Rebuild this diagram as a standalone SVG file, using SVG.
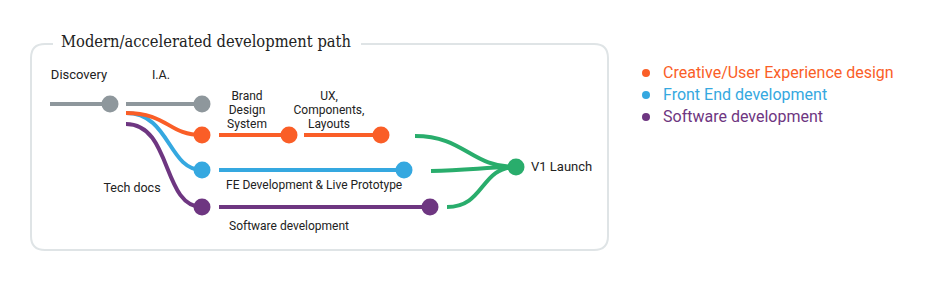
<svg xmlns="http://www.w3.org/2000/svg" width="942" height="287" viewBox="0 0 942 287">
<style>
.lbl{font-family:Roboto,"Liberation Sans",sans-serif;font-size:12.5px;fill:#222}
.sm{font-size:12px}
.lg{font-size:13px}
.leg{font-family:Roboto,"Liberation Sans",sans-serif;font-size:16px}
.ln{fill:none;stroke-width:4;stroke-linecap:butt}
.gray{stroke:#8e979c}.org{stroke:#fa5e27}.blu{stroke:#35a8e0}.pur{stroke:#6e3681}.grn{stroke:#29ad6c}
</style>
<rect width="942" height="287" fill="#fff"/>
<g id="frame">
<path d="M53 44 H45 Q31 44 31 58 V236 Q31 250 45 250 H594 Q608 250 608 236 V58 Q608 44 594 44 H361" fill="none" stroke="#dfe4e6" stroke-width="2"/>
<text x="61" y="47" font-family="'DejaVu Serif','Liberation Serif',serif" font-size="17" fill="#222" textLength="290" lengthAdjust="spacingAndGlyphs">Modern/accelerated development path</text>
</g>
<g id="connectors">
<path class="ln gray" d="M50 104 H110"/>
<path class="ln gray" d="M126 104 H202"/>
<path class="ln blu" d="M126 113 C170 113 168 170 202 170"/>
<path class="ln org" d="M126 113 C168 113 168 135 202 135"/>
<path class="ln pur" d="M126 124 C172 124 162 207 202 207"/>
<path class="ln org" d="M219 135 H289"/>
<path class="ln org" d="M304 135 H381"/>
<path class="ln blu" d="M219 170 H404"/>
<path class="ln pur" d="M219 207 H430"/>
<path class="ln grn" d="M415 136 C465 136 470 167 516 167"/>
<path class="ln grn" d="M431 171 C470 170 490 167 516 167"/>
<path class="ln grn" d="M447 207 C485 207 480 167 516 167"/>
</g>
<g id="discovery"><circle cx="110" cy="104" r="8.5" fill="#8e979c"/><text class="lbl lg" x="79" y="79" text-anchor="middle">Discovery</text></g>
<g id="ia"><circle cx="202" cy="104" r="8.5" fill="#8e979c"/><text class="lbl" x="161" y="79" text-anchor="middle">I.A.</text></g>
<g id="creative-start"><circle cx="202" cy="135" r="8.5" fill="#fa5e27"/></g>
<g id="brand"><circle cx="289" cy="135" r="8.5" fill="#fa5e27"/><text class="lbl sm" text-anchor="middle"><tspan x="247" y="100">Brand</tspan><tspan x="247" y="114">Design</tspan><tspan x="247" y="128">System</tspan></text></g>
<g id="ux"><circle cx="381" cy="135" r="8.5" fill="#fa5e27"/><text class="lbl sm" text-anchor="middle"><tspan x="329" y="100">UX,</tspan><tspan x="329" y="114">Components,</tspan><tspan x="329" y="128">Layouts</tspan></text></g>
<g id="fe-start"><circle cx="202" cy="170" r="8.5" fill="#35a8e0"/></g>
<g id="fe"><circle cx="404" cy="170" r="8.5" fill="#35a8e0"/><text class="lbl sm" x="226" y="189">FE Development &amp; Live Prototype</text></g>
<g id="tech-docs"><circle cx="202" cy="207" r="8.5" fill="#6e3681"/><text class="lbl" x="132" y="192" text-anchor="middle">Tech docs</text></g>
<g id="software"><circle cx="430" cy="207" r="8.5" fill="#6e3681"/><text class="lbl sm" x="229" y="230">Software development</text></g>
<g id="launch"><circle cx="516" cy="167" r="8.5" fill="#29ad6c"/><text class="lbl lg" x="531" y="171">V1 Launch</text></g>
<g id="legend">
<circle cx="646" cy="73" r="4" fill="#fa5e27"/><text class="leg" x="663" y="78" fill="#fa5e27">Creative/User Experience design</text>
<circle cx="646" cy="95" r="4" fill="#35a8e0"/><text class="leg" x="663" y="100" fill="#35a8e0">Front End development</text>
<circle cx="646" cy="117" r="4" fill="#6e3681"/><text class="leg" x="663" y="122" fill="#6e3681">Software development</text>
</g>
</svg>
